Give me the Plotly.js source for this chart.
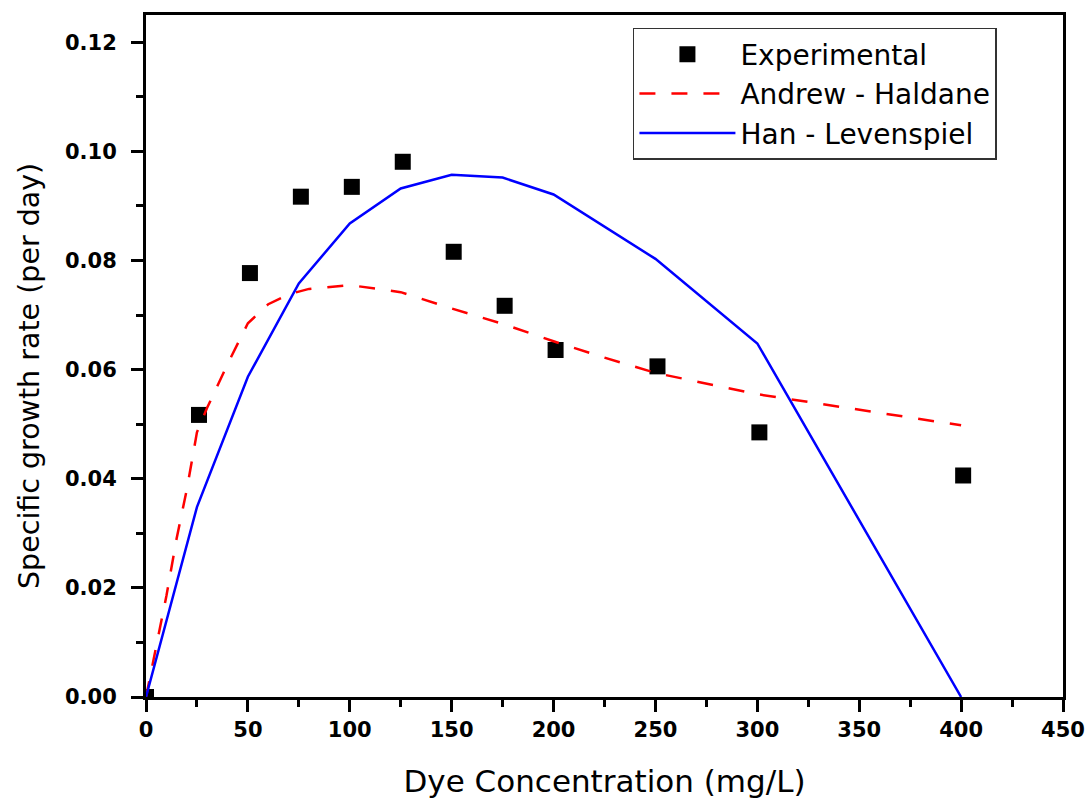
<!DOCTYPE html>
<html>
<head>
<meta charset="utf-8">
<script src="https://cdn.plot.ly/plotly-3.0.1.min.js"></script>
<style>html,body{margin:0;padding:0;background:#fff;}#chart{width:1088px;height:799px;}</style>
</head>
<body>
<div id="chart"></div>
<script>
// Experimental data
const expX = [0, 26, 51, 76, 101, 126, 151, 176, 201, 251, 301, 401];
const expY = [0, 0.0517, 0.0777, 0.0917, 0.0935, 0.0981, 0.0816, 0.0717, 0.0636, 0.0606, 0.0485, 0.0406];

// Andrew - Haldane model
const ahX = [0, 5, 10, 15, 20, 25, 30, 40, 50, 60, 70, 80, 100, 125, 150, 175, 200, 225, 250, 300, 350, 400];
const ahY = [0, 0.0095, 0.0185, 0.029, 0.038, 0.0485, 0.053, 0.061, 0.0685, 0.072, 0.0738, 0.0748, 0.0755, 0.0742, 0.0712, 0.0684, 0.0652, 0.0622, 0.0594, 0.0555, 0.0527, 0.0498];

// Han - Levenspiel model
const hlX = [0, 25, 50, 75, 100, 125, 150, 175, 200, 250, 300, 400];
const hlY = [0, 0.0348, 0.0587, 0.0758, 0.0868, 0.0932, 0.0957, 0.0952, 0.0921, 0.0803, 0.0648, 0];

const xTicks = [0, 50, 100, 150, 200, 250, 300, 350, 400, 450];
const yTicks = [0, 0.02, 0.04, 0.06, 0.08, 0.10, 0.12];
const yTickText = ['0.00', '0.02', '0.04', '0.06', '0.08', '0.10', '0.12'];

const xTitle = 'Dye Concentration (mg/L)';
const yTitle = 'Specific growth rate (per day)';

const FONT = 'DejaVu Sans, Verdana, sans-serif';

const traces = [
  {x: expX, y: expY, type: 'scatter', mode: 'markers', name: 'Experimental',
   marker: {symbol: 'square', size: 16, color: '#000'}},
  {x: ahX, y: ahY, type: 'scatter', mode: 'lines', name: 'Andrew - Haldane',
   line: {color: '#ff0000', width: 2.5, dash: '16px,16px'}},
  {x: hlX, y: hlY, type: 'scatter', mode: 'lines', name: 'Han - Levenspiel',
   line: {color: '#0000ff', width: 2.5}}
];

const layout = {
  width: 1088, height: 799,
  margin: {l: 146, r: 25, t: 15, b: 102},
  paper_bgcolor: '#fff', plot_bgcolor: '#fff',
  font: {family: FONT, color: '#000'},
  showlegend: true,
  legend: {x: 0.531, y: 0.981, xanchor: 'left', yanchor: 'top',
    bordercolor: '#333', borderwidth: 1.5, bgcolor: '#fff', itemwidth: 96,
    font: {family: FONT, size: 28, color: '#000'}, tracegroupgap: 0},
  xaxis: {
    range: [0, 450], tickvals: xTicks, ticktext: xTicks.map(String),
    ticks: 'outside', ticklen: 12, tickwidth: 3, tickcolor: '#000',
    minor: {dtick: 25, tick0: 0, ticks: 'outside', ticklen: 7, tickwidth: 3, tickcolor: '#000'},
    showline: true, linewidth: 3, linecolor: '#000', mirror: true,
    showgrid: false, zeroline: false,
    tickfont: {family: FONT, size: 21, weight: 'bold', color: '#000'},
    title: {text: xTitle, font: {family: FONT, size: 31, color: '#000'}, standoff: 30}
  },
  yaxis: {
    range: [0, 0.125], tickvals: yTicks, ticktext: yTickText,
    ticks: 'outside', ticklen: 12, tickwidth: 3, tickcolor: '#000',
    minor: {dtick: 0.01, tick0: 0, ticks: 'outside', ticklen: 7, tickwidth: 3, tickcolor: '#000'},
    showline: true, linewidth: 3, linecolor: '#000', mirror: true,
    showgrid: false, zeroline: false, ticklabelstandoff: 10,
    tickfont: {family: FONT, size: 21, weight: 'bold', color: '#000'}
  },
  annotations: [{
    text: yTitle, textangle: -90, showarrow: false,
    xref: 'paper', yref: 'paper', x: -0.1265, y: 0.4707,
    xanchor: 'center', yanchor: 'middle',
    font: {family: FONT, size: 28.5, color: '#000'}
  }]
};

Plotly.newPlot('chart', traces, layout, {displayModeBar: false, staticPlot: true});
</script>
</body>
</html>
